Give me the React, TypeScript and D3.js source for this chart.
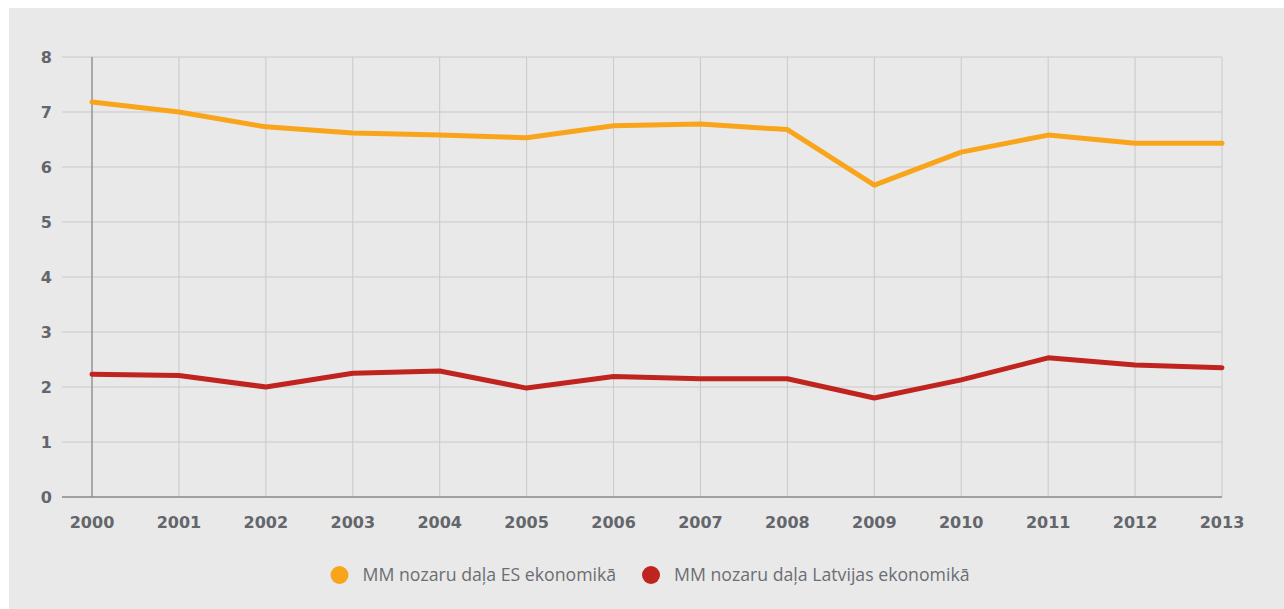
import React from "react";
import * as d3 from "d3";

const years = [2000, 2001, 2002, 2003, 2004, 2005, 2006, 2007, 2008, 2009, 2010, 2011, 2012, 2013];
const esValues = [7.18, 7.0, 6.73, 6.62, 6.58, 6.53, 6.75, 6.78, 6.68, 5.67, 6.27, 6.58, 6.43, 6.43];
const lvValues = [2.23, 2.21, 2.0, 2.25, 2.29, 1.98, 2.19, 2.15, 2.15, 1.8, 2.13, 2.53, 2.4, 2.35];
const yTicks = [0, 1, 2, 3, 4, 5, 6, 7, 8];
const seriesNames = ["MM nozaru daļa ES ekonomikā", "MM nozaru daļa Latvijas ekonomikā"];
const seriesColors = ["#f9a51b", "#bf241f"];

export default function App() {
  // coordinates relative to the gray panel (panel starts at page x=9, y=8)
  const ox = 9, oy = 8;
  const x = d3.scaleLinear().domain([2000, 2013]).range([92 - ox, 1222 - ox]);
  const y = d3.scaleLinear().domain([0, 8]).range([497 - oy, 57 - oy]);
  const gridLeft = 62 - ox;
  const line = d3.line<number>().x((_, i) => x(years[i])).y((v) => y(v));
  const series = [esValues, lvValues];
  const textColor = "#63666b";
  const legendX = [339.5 - ox, 651 - ox];
  const legendY = 575 - oy;

  return (
    <div style={{ position: "fixed", left: ox, top: oy, width: 1284 - ox, height: 609 - oy, background: "#e9e9e9", overflow: "hidden" }}>
      <svg width={1284 - ox} height={609 - oy} style={{ display: "block" }}>
        {yTicks.map((t) => (
          <line key={"h" + t} x1={gridLeft} x2={x(2013)} y1={y(t)} y2={y(t)} stroke="#c9c9c9" strokeWidth={1} />
        ))}
        {years.map((yr) => (
          <line key={"v" + yr} x1={x(yr)} x2={x(yr)} y1={y(8)} y2={y(0)} stroke="#c9c9c9" strokeWidth={1} />
        ))}
        <line x1={x(2000)} x2={x(2000)} y1={y(8)} y2={y(0)} stroke="#76797e" strokeWidth={1} />
        <line x1={gridLeft} x2={x(2013)} y1={y(0)} y2={y(0)} stroke="#8a8d91" strokeWidth={1.5} />
        {yTicks.map((t) => (
          <text key={"yl" + t} x={52 - ox} y={y(t) + 5.5} textAnchor="end" fontFamily="DejaVu Sans" fontWeight="bold" fontSize={16} fill={textColor}>
            {t}
          </text>
        ))}
        {years.map((yr) => (
          <text key={"xl" + yr} x={x(yr)} y={528 - oy} textAnchor="middle" fontFamily="DejaVu Sans" fontWeight="bold" fontSize={16} fill={textColor}>
            {yr}
          </text>
        ))}
        {series.map((s, i) => (
          <path key={"s" + i} d={line(s) || ""} fill="none" stroke={seriesColors[i]} strokeWidth={5} strokeLinejoin="round" strokeLinecap="round" />
        ))}
        {seriesNames.map((n, i) => (
          <g key={"lg" + i}>
            <circle cx={legendX[i]} cy={legendY} r={9} fill={seriesColors[i]} />
            <text x={legendX[i] + 23} y={legendY + 6} fontFamily="Open Sans" fontSize={17.7} fill="#6b6e73">
              {n}
            </text>
          </g>
        ))}
      </svg>
    </div>
  );
}
